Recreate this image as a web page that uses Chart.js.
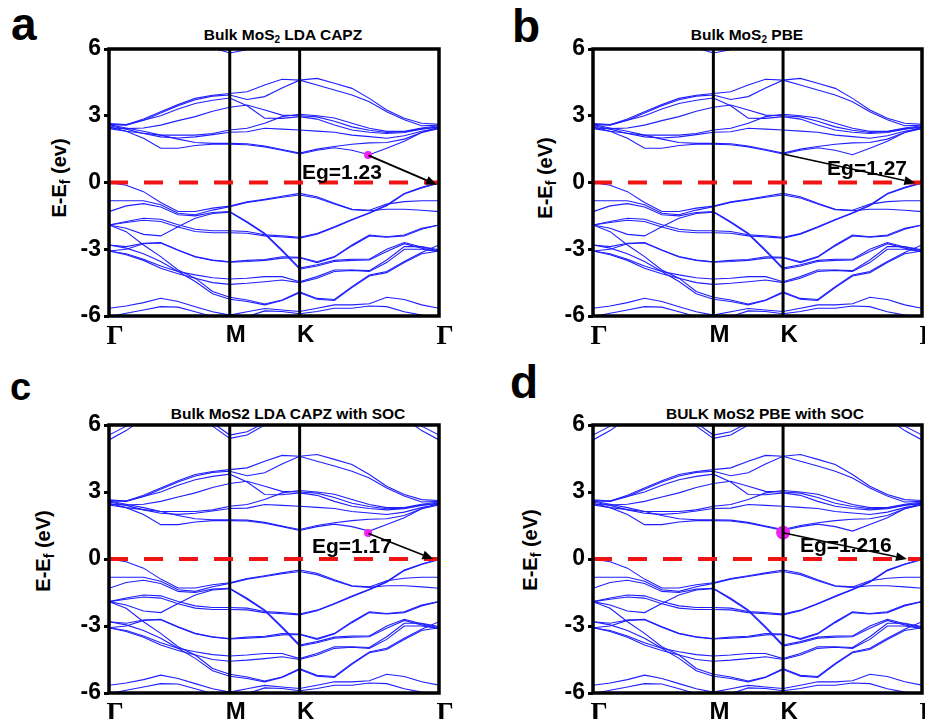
<!DOCTYPE html>
<html>
<head>
<meta charset="utf-8">
<script src="https://cdn.jsdelivr.net/npm/chart.js@4.4.1/dist/chart.umd.min.js"></script>
<style>
  body { margin: 0; width: 925px; height: 719px; overflow: hidden; background: #fff; position: relative;
         font-family: "Liberation Sans", Arial, sans-serif; }
  canvas { position: absolute; }
  .letter { position: absolute; font-weight: bold; line-height: 1; color: #000; }
  .title { position: absolute; font-weight: bold; font-size: 15.5px; line-height: 1; transform: translateX(-50%); white-space: nowrap; }
  .title sub { font-size: 10px; vertical-align: -3px; }
  .ytitle { position: absolute; font-weight: bold; font-size: 20px; line-height: 1; white-space: nowrap;
            transform: translate(-50%, -50%) rotate(-90deg); }
  .ytitle sub { font-size: 14px; vertical-align: -4px; }
</style>
</head>
<body>
<div class="letter" style="left:11px;top:1px;font-size:46px">a</div>
<div class="letter" style="left:512px;top:3px;font-size:46px">b</div>
<div class="letter" style="left:10px;top:368px;font-size:38px">c</div>
<div class="letter" style="left:510px;top:359px;font-size:46px">d</div>

<div class="title" style="left:283px;top:27px">Bulk MoS<sub>2</sub> LDA CAPZ</div>
<div class="title" style="left:747px;top:27px">Bulk MoS<sub>2</sub> PBE</div>
<div class="title" style="left:288px;top:406px">Bulk MoS2 LDA CAPZ with SOC</div>
<div class="title" style="left:765px;top:406px">BULK MoS2 PBE with SOC</div>

<div class="ytitle" style="left:60px;top:178px">E-E<sub>f</sub> (ev)</div>
<div class="ytitle" style="left:546px;top:178px">E-E<sub>f</sub> (eV)</div>
<div class="ytitle" style="left:44px;top:551px">E-E<sub>f</sub> (eV)</div>
<div class="ytitle" style="left:531px;top:550px">E-E<sub>f</sub> (eV)</div>

<canvas id="panelA" width="462" height="360" style="left:0;top:0"></canvas>
<canvas id="panelB" width="463" height="360" style="left:462px;top:0"></canvas>
<canvas id="panelC" width="462" height="359" style="left:0;top:360px"></canvas>
<canvas id="panelD" width="463" height="359" style="left:462px;top:360px"></canvas>

<script>
// k-path distance along Γ-M-K-Γ (20 points)
const kPath = [0, 0.082, 0.165, 0.247, 0.330, 0.412, 0.495, 0.577, 0.660, 0.744,
               0.827, 0.911, 0.994, 1.077, 1.161, 1.244, 1.327, 1.411, 1.494, 1.577];
const kTickPos = [0, 0.577, 0.911, 1.577];
const kTickLabels = ['Γ', 'M', 'K', 'Γ'];
const energyTicks = [-6, -3, 0, 3, 6];

// conduction bands (eV)
const conductionBands = [
  [2.42, 2.3, 1.99, 1.54, 1.54, 1.66, 1.72, 1.72, 1.7, 1.6, 1.45, 1.28, 1.45, 1.56, 1.45, 1.25, 1.54, 1.85, 2.25, 2.42],
  [2.5, 2.3, 2.21, 2.13, 1.95, 1.8, 1.76, 1.76, 1.74, 1.64, 1.48, 1.32, 1.5, 1.62, 1.72, 1.78, 1.8, 1.95, 2.25, 2.48],
  [2.55, 2.4, 2.2, 2.05, 2.0, 2.05, 2.15, 2.26, 2.28, 2.44, 2.4, 2.36, 2.31, 2.26, 2.13, 2.06, 1.99, 2.1, 2.3, 2.45],
  [2.6, 2.45, 2.3, 2.13, 2.13, 2.13, 2.2, 2.36, 2.44, 2.66, 2.96, 3.07, 3.0, 2.9, 2.66, 2.44, 2.3, 2.3, 2.45, 2.55],
  [2.6, 2.6, 2.8, 3.0, 3.3, 3.55, 3.7, 3.8, 3.45, 2.89, 2.88, 2.96, 2.85, 2.58, 2.36, 2.26, 2.2, 2.25, 2.4, 2.5],
  [2.45, 2.42, 2.45, 2.58, 2.78, 2.96, 3.2, 3.38, 3.48, 3.26, 3.03, 3.0, 2.95, 2.75, 2.5, 2.35, 2.25, 2.28, 2.42, 2.48],
  [2.65, 2.6, 2.85, 3.18, 3.5, 3.78, 3.92, 4.0, 4.08, 4.38, 4.64, 4.6, 4.68, 4.46, 4.23, 3.78, 3.26, 2.89, 2.66, 2.62],
  [2.62, 2.58, 2.8, 3.12, 3.45, 3.72, 3.88, 3.93, 3.73, 3.86, 4.25, 4.6, 4.38, 4.16, 3.93, 3.63, 3.18, 2.82, 2.55, 2.58]
];

// valence bands (eV)
const valenceBands = [
  [0, -0.12, -0.41, -0.9, -1.3, -1.3, -1.15, -1.06, -0.87, -0.75, -0.62, -0.49, -0.64, -0.93, -1.2, -1.25, -0.97, -0.86, -0.82, -0.82],
  [-0.82, -0.82, -0.82, -1.0, -1.38, -1.45, -1.24, -1.09, -0.9, -0.78, -0.66, -0.56, -0.7, -0.97, -1.22, -1.27, -1.2, -1.2, -1.25, -1.31],
  [-1.31, -1.05, -0.95, -1.1, -1.45, -1.5, -1.35, -1.31, -1.76, -2.28, -3.03, -3.85, -3.7, -3.5, -3.45, -3.45, -3.0, -2.7, -2.9, -3.08],
  [-1.91, -2.06, -2.33, -2.4, -1.99, -1.61, -1.39, -1.33, -1.8, -2.32, -3.08, -3.9, -3.75, -3.55, -3.5, -3.48, -3.1, -2.75, -2.95, -3.11],
  [-1.91, -1.75, -1.61, -1.65, -1.9, -2.1, -2.17, -2.17, -2.2, -2.35, -2.4, -2.46, -2.29, -1.99, -1.66, -1.36, -1.01, -0.49, -0.22, 0],
  [-1.91, -1.8, -1.7, -1.75, -2.0, -2.2, -2.26, -2.26, -2.28, -2.4, -2.45, -2.5, -2.32, -2.02, -1.69, -1.38, -1.04, -0.52, -0.25, -0.03],
  [-1.91, -2.21, -2.81, -3.33, -3.93, -4.3, -4.9, -5.16, -5.28, -5.46, -5.28, -4.91, -5.21, -5.26, -4.68, -4.16, -4.0, -3.55, -3.15, -2.81],
  [-2.81, -2.95, -3.2, -3.55, -4.0, -4.45, -5.0, -5.25, -5.35, -5.5, -5.3, -4.95, -5.25, -5.3, -4.72, -4.2, -4.05, -3.6, -3.2, -3.08],
  [-2.81, -2.88, -2.73, -2.7, -3.03, -3.33, -3.48, -3.56, -3.5, -3.46, -3.34, -3.36, -3.56, -3.33, -2.81, -2.36, -2.44, -2.36, -2.06, -1.91],
  [-3.08, -3.0, -2.75, -2.72, -3.05, -3.35, -3.5, -3.58, -3.55, -3.5, -3.4, -3.38, -3.6, -3.36, -2.85, -2.4, -2.46, -2.4, -2.1, -1.91],
  [-3.08, -3.2, -3.45, -3.75, -4.0, -4.15, -4.28, -4.34, -4.3, -4.23, -4.23, -4.46, -4.23, -3.93, -3.93, -3.96, -3.48, -2.88, -2.88, -3.03],
  [-3.08, -3.25, -3.5, -3.85, -4.1, -4.3, -4.5, -4.58, -4.53, -4.46, -4.38, -4.5, -4.3, -4.0, -3.95, -4.0, -3.6, -3.0, -3.0, -3.11],
  [-5.65, -5.55, -5.4, -5.2, -5.35, -5.58, -5.81, -5.96, -5.81, -5.66, -5.73, -5.8, -5.65, -5.5, -5.5, -5.45, -5.16, -5.26, -5.5, -5.65],
  [-6.03, -5.88, -5.73, -5.58, -5.6, -5.81, -6.03, -6.07, -6.03, -5.77, -5.8, -5.9, -5.8, -5.65, -5.65, -5.55, -5.58, -5.81, -5.96, -6.03]
];

// high band near the top edge (no SOC)
const upperBandsNoSoc = [
  [7, 7, 7, 7, 7, 6.6, 6.05, 5.82, 5.97, 6.3, 7, 7, 7, 7, 7, 7, 7, 7, 7, 7]
];

// high bands near the top edge (with SOC)
const upperBandsSoc = [
  [5.33, 5.75, 6.3, 7, 7, 7, 7, 7, 7, 7, 7, 7, 7, 7, 7, 7, 7, 6.3, 5.75, 5.33],
  [5.55, 5.95, 6.5, 7, 7, 7, 7, 7, 7, 7, 7, 7, 7, 7, 7, 7, 7, 6.5, 5.95, 5.55],
  [7, 7, 7, 7, 7, 6.6, 5.95, 5.4, 5.55, 6.0, 6.6, 7, 7, 7, 7, 7, 7, 7, 7, 7],
  [7, 7, 7, 7, 7, 6.8, 6.1, 5.55, 5.7, 6.1, 6.8, 7, 7, 7, 7, 7, 7, 7, 7, 7]
];

const gapLabels = ['Eg=1.23', 'Eg=1.27', 'Eg=1.17', 'Eg=1.216'];

const FONT = '"Liberation Sans", Arial, sans-serif';
const BAND_COLOR = '#1f1fff';

const panels = [
  { id: 'panelA', bands: [...conductionBands, ...valenceBands, ...upperBandsNoSoc], yW: 109, xH: 44, padR: 23, padT: 49,
    dot: { x: 1.238, y: 1.24, r: 4 }, arrow: { from: [1.24, 1.22], to: [1.567, -0.1], w: 2 },
    label: { text: gapLabels[0], x: 0.922, y: 0.14 } },
  { id: 'panelB', bands: [...conductionBands, ...valenceBands, ...upperBandsNoSoc], yW: 131, xH: 44, padR: 3, padT: 49,
    dot: null, arrow: { from: [0.911, 1.28], to: [1.545, -0.02], w: 1.5 },
    label: { text: gapLabels[1], x: 1.122, y: 0.34 } },
  { id: 'panelC', bands: [...conductionBands, ...valenceBands, ...upperBandsSoc], yW: 109, xH: 26, padR: 23, padT: 65,
    dot: { x: 1.238, y: 1.16, r: 4 }, arrow: { from: [1.24, 1.14], to: [1.55, 0.0], w: 1.5 },
    label: { text: gapLabels[2], x: 0.970, y: 0.25 } },
  { id: 'panelD', bands: [...conductionBands, ...valenceBands, ...upperBandsSoc], yW: 131, xH: 26, padR: 3, padT: 65,
    dot: { x: 0.911, y: 1.18, r: 7 }, arrow: { from: [0.911, 1.18], to: [1.505, 0.0], w: 1.5 },
    label: { text: gapLabels[3], x: 0.992, y: 0.33 } }
];

// frame, M/K lines, Fermi level, gap arrow and label
const decor = {
  id: 'decor',
  afterDatasetsDraw(chart, args, opts) {
    const { ctx, chartArea: a, scales: { x, y } } = chart;
    ctx.save();
    ctx.strokeStyle = '#000';
    ctx.lineWidth = 3;
    [kTickPos[1], kTickPos[2]].forEach(k => {
      const px = x.getPixelForValue(k);
      ctx.beginPath(); ctx.moveTo(px, a.top); ctx.lineTo(px, a.bottom); ctx.stroke();
    });

    const y0 = y.getPixelForValue(0);
    ctx.strokeStyle = '#f01414';
    ctx.lineWidth = 4;
    ctx.setLineDash([19, 16]);
    ctx.beginPath(); ctx.moveTo(a.left, y0); ctx.lineTo(a.right, y0); ctx.stroke();
    ctx.setLineDash([]);

    ctx.strokeStyle = '#000';
    ctx.lineWidth = 3.5;
    ctx.strokeRect(a.left, a.top, a.right - a.left, a.bottom - a.top);

    // arrow
    const ar = opts.arrow;
    const x1 = x.getPixelForValue(ar.from[0]), y1 = y.getPixelForValue(ar.from[1]);
    const x2 = x.getPixelForValue(ar.to[0]), y2 = y.getPixelForValue(ar.to[1]);
    const ang = Math.atan2(y2 - y1, x2 - x1);
    const hl = 11, hw = 4.5;
    ctx.lineWidth = ar.w;
    ctx.beginPath();
    ctx.moveTo(x1, y1);
    ctx.lineTo(x2 - hl * Math.cos(ang), y2 - hl * Math.sin(ang));
    ctx.stroke();
    ctx.fillStyle = '#000';
    ctx.beginPath();
    ctx.moveTo(x2, y2);
    ctx.lineTo(x2 - hl * Math.cos(ang) + hw * Math.sin(ang), y2 - hl * Math.sin(ang) - hw * Math.cos(ang));
    ctx.lineTo(x2 - hl * Math.cos(ang) - hw * Math.sin(ang), y2 - hl * Math.sin(ang) + hw * Math.cos(ang));
    ctx.closePath();
    ctx.fill();

    ctx.font = 'bold 21px ' + FONT;
    ctx.textBaseline = 'alphabetic';
    ctx.textAlign = 'left';
    ctx.fillText(opts.label.text, x.getPixelForValue(opts.label.x), y.getPixelForValue(opts.label.y));
    ctx.restore();
  }
};

panels.forEach(p => {
  const datasets = [];
  if (p.dot) {
    datasets.push({
      data: [{ x: p.dot.x, y: p.dot.y }],
      showLine: false,
      pointRadius: p.dot.r,
      pointBackgroundColor: '#f020f0',
      pointBorderWidth: 0
    });
  }
  p.bands.forEach(band => {
    datasets.push({
      data: band.map((e, i) => ({ x: kPath[i], y: e })),
      borderColor: BAND_COLOR,
      borderWidth: 1.1,
      pointRadius: 0,
      tension: 0,
      fill: false
    });
  });

  new Chart(document.getElementById(p.id), {
    type: 'line',
    data: { datasets },
    plugins: [decor],
    options: {
      responsive: false,
      animation: false,
      devicePixelRatio: 1,
      layout: { autoPadding: false, padding: { left: 0, right: p.padR, top: p.padT, bottom: 0 } },
      plugins: {
        legend: { display: false },
        tooltip: { enabled: false },
        decor: p
      },
      scales: {
        x: {
          type: 'linear',
          min: 0,
          max: kTickPos[3],
          afterBuildTicks: s => { s.ticks = kTickPos.map(v => ({ value: v })); },
          afterFit: s => { s.height = p.xH; s.paddingLeft = 0; s.paddingRight = 0; },
          grid: { display: false },
          border: { display: false },
          ticks: {
            autoSkip: false,
            maxRotation: 0,
            labelOffset: 6,
            padding: -3,
            color: '#000',
            callback: (v, i) => kTickLabels[i],
            font: c => (c.index === 0 || c.index === 3)
              ? { family: '"Liberation Serif", "Times New Roman", serif', size: 27, weight: 'bold' }
              : { family: FONT, size: 24, weight: 'bold' }
          }
        },
        y: {
          min: -6,
          max: 6,
          afterBuildTicks: s => { s.ticks = energyTicks.map(v => ({ value: v })); },
          afterFit: s => { s.width = p.yW; s.paddingTop = 0; s.paddingBottom = 0; },
          border: { display: false },
          grid: { drawOnChartArea: false, tickLength: 5, tickWidth: 3, tickColor: '#000' },
          ticks: {
            padding: 3,
            color: '#000',
            font: { family: FONT, size: 23, weight: 'bold' }
          }
        }
      }
    }
  });
});
</script>
</body>
</html>
